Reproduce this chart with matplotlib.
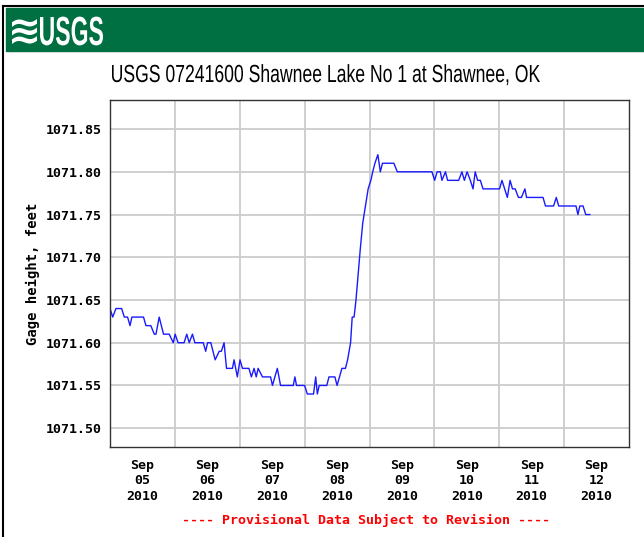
import numpy as np
import matplotlib
matplotlib.use("Agg")
import matplotlib.pyplot as plt
from matplotlib.patches import Rectangle, PathPatch
from matplotlib.textpath import TextPath
from matplotlib.font_manager import FontProperties
from matplotlib.transforms import Affine2D, IdentityTransform

# hours after 2010-09-05 00:00 and gage height (ft)
hours = [0.0, 1.0, 2.2, 4.3, 5.3, 6.5, 7.4, 8.1, 12.4, 13.3, 15.1, 16.4, 17.0, 18.2,
         19.8, 21.9, 23.4, 24.1, 25.2, 27.4, 28.4, 29.3, 30.5, 31.4, 34.5, 35.4,
         36.1, 37.3, 38.9, 40.4, 41.2, 42.2, 43.1, 45.3, 45.9, 47.1, 48.1, 49.0,
         51.4, 52.3, 53.3, 54.1, 54.8, 56.4, 57.0, 59.4, 60.1, 61.9, 63.1, 67.8,
         68.4, 69.0, 72.0, 73.0, 75.3, 76.1, 76.7, 77.4, 80.2, 81.0, 83.2, 84.0,
         85.8, 87.1, 87.9, 89.0, 89.6, 90.3, 91.0, 91.8, 92.6, 93.5, 94.5, 95.5,
         96.5, 97.2, 98.0, 99.1, 100.0, 100.8, 105.0, 106.3, 119.1, 120.1, 121.0,
         122.2, 122.8, 124.1, 124.9, 129.0, 130.2, 131.1, 132.1, 133.3, 134.3,
         135.1, 136.0, 137.0, 138.0, 144.1, 145.0, 146.0, 147.0, 148.0, 148.9,
         149.9, 151.1, 152.2, 153.5, 154.1, 160.2, 161.1, 164.1, 165.1, 166.0,
         172.4, 173.1, 173.8, 175.0, 176.0, 177.5]
gage = [1071.64, 1071.63, 1071.64, 1071.64, 1071.63, 1071.63, 1071.62, 1071.63,
        1071.63, 1071.62, 1071.62, 1071.61, 1071.61, 1071.63, 1071.61, 1071.61,
        1071.60, 1071.61, 1071.60, 1071.60, 1071.61, 1071.60, 1071.61, 1071.60,
        1071.60, 1071.59, 1071.60, 1071.60, 1071.58, 1071.59, 1071.59, 1071.60,
        1071.57, 1071.57, 1071.58, 1071.56, 1071.58, 1071.57, 1071.57, 1071.56,
        1071.57, 1071.56, 1071.57, 1071.56, 1071.56, 1071.56, 1071.55, 1071.57,
        1071.55, 1071.55, 1071.56, 1071.55, 1071.55, 1071.54, 1071.54, 1071.56,
        1071.54, 1071.55, 1071.55, 1071.56, 1071.56, 1071.55, 1071.57, 1071.57,
        1071.58, 1071.60, 1071.63, 1071.63, 1071.65, 1071.68, 1071.71, 1071.74,
        1071.76, 1071.78, 1071.79, 1071.80, 1071.81, 1071.82, 1071.80, 1071.81,
        1071.81, 1071.80, 1071.80, 1071.79, 1071.80, 1071.80, 1071.79, 1071.80,
        1071.79, 1071.79, 1071.80, 1071.79, 1071.80, 1071.79, 1071.78, 1071.80,
        1071.79, 1071.79, 1071.78, 1071.78, 1071.79, 1071.78, 1071.77, 1071.79,
        1071.78, 1071.78, 1071.77, 1071.77, 1071.78, 1071.77, 1071.77, 1071.76,
        1071.76, 1071.77, 1071.76, 1071.76, 1071.75, 1071.76, 1071.76, 1071.75,
        1071.75]

y_ticks = [1071.50, 1071.55, 1071.60, 1071.65, 1071.70, 1071.75, 1071.80, 1071.85]
day_labels = ["Sep\n05\n2010", "Sep\n06\n2010", "Sep\n07\n2010", "Sep\n08\n2010",
              "Sep\n09\n2010", "Sep\n10\n2010", "Sep\n11\n2010", "Sep\n12\n2010"]
title = "USGS 07241600 Shawnee Lake No 1 at Shawnee, OK"

start = np.datetime64("2010-09-05T00:00")
times = start + (np.array(hours) * 60).astype("timedelta64[m]")
noon = start + np.arange(8) * np.timedelta64(24, "h") + np.timedelta64(12, "h")
midnights = start + np.arange(1, 8) * np.timedelta64(24, "h")

mono = "DejaVu Sans Mono"
H = 537


def squeezed_text(fig, s, x0, x1, top, base, color, weight="normal",
                  family="Liberation Sans", ref="H"):
    # draw text fitted into a pixel box (image coords, y from top), condensed like Arial Narrow
    fp = FontProperties(family=family, weight=weight)
    tp = TextPath((0, 0), s, size=100, prop=fp)
    ext = tp.get_extents()
    if ref:
        cap = TextPath((0, 0), ref, size=100, prop=fp).get_extents()
        y0, hgt = 0, cap.height
    else:
        y0, hgt = ext.y0, ext.height
    sx = (x1 - x0) / ext.width
    sy = (base - top) / hgt
    tr = Affine2D().translate(-ext.x0, -y0).scale(sx, sy).translate(x0, H - base)
    fig.add_artist(PathPatch(tr.transform_path(tp), transform=IdentityTransform(),
                             facecolor=color, edgecolor="none"))


fig = plt.figure(figsize=(6.44, 5.37), dpi=100)

# frame lines and green banner
fig.add_artist(plt.Line2D([3 / 644, 3 / 644], [0, 1 - 6 / 537], color="black", lw=1.5))
fig.add_artist(plt.Line2D([3 / 644, 1], [1 - 6 / 537, 1 - 6 / 537], color="black", lw=1.5))
fig.add_artist(Rectangle((6 / 644, 1 - 51 / 537), 1, 43 / 537, color="#006f41"))
squeezed_text(fig, "\u224b", 12, 37, 19, 44, "white", "bold", "DejaVu Sans", None)
squeezed_text(fig, "USGS", 40, 103, 17, 45, "white", "bold")

squeezed_text(fig, title, 112, 540, 65, 82, "black")

ax = fig.add_axes([110 / 644, 1 - 447 / 537, 519 / 644, 347 / 537])
ax.plot(times, gage, color="#1a1aff", lw=1.0)

ax.set_xlim(start, start + np.timedelta64(8 * 24, "h"))
ax.set_ylim(1071.478, 1071.884)

ax.set_xticks(noon)
ax.set_xticklabels(day_labels, family=mono, fontweight="bold", fontsize=9.5)
ax.set_xticks(midnights, minor=True)
ax.set_yticks(y_ticks)
ax.set_yticklabels(["%.2f" % v for v in y_ticks], family=mono, fontweight="bold", fontsize=9.5)
ax.tick_params(which="both", length=0)
ax.tick_params(axis="x", pad=9)
ax.tick_params(axis="y", pad=6)

ax.grid(True, which="minor", axis="x", color="#cccccc", lw=1.3)
ax.grid(True, which="major", axis="y", color="#cccccc", lw=1.3)
ax.set_axisbelow(True)
for s in ax.spines.values():
    s.set_color("#333333")
    s.set_linewidth(1.0)

ax.set_ylabel("Gage height, feet", family=mono, fontweight="bold", fontsize=10, labelpad=4)

fig.text(366 / 644, 1 - 520 / 537, "---- Provisional Data Subject to Revision ----",
         color="red", family=mono, fontweight="bold", fontsize=9.5, ha="center", va="center")

fig.savefig("out.png", dpi=100)
